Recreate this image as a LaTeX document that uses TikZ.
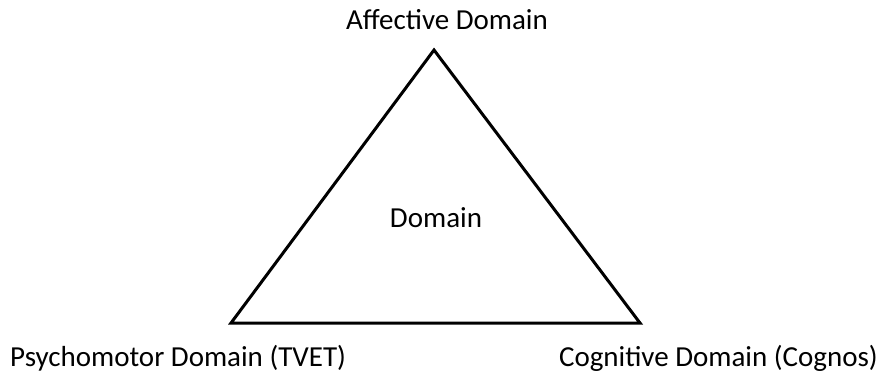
\documentclass[tikz,border=0pt]{standalone}
\usepackage{fontspec}
\setmainfont{Carlito}
\begin{document}
\begin{tikzpicture}[x=1pt,y=-1pt,
  lbl/.style={inner sep=0pt,font=\fontsize{29}{34}\selectfont},
  edge/.style={line width=3pt,line join=miter}]
\useasboundingbox (0,0) rectangle (885,376);
\coordinate (top) at (434,50);
\coordinate (bl) at (231,323);
\coordinate (br) at (640,323);
\draw[edge] (top) -- (bl) -- (br) -- cycle;
\node[lbl,anchor=base] (aff) at (447,29) {Affective Domain};
\node[lbl,anchor=base] (dom) at (436,227) {Domain};
\node[lbl,anchor=base west] (psy) at (10,366) {Psychomotor Domain (TVET)};
\node[lbl,anchor=base east] (cog) at (878,366) {Cognitive Domain (Cognos)};
\end{tikzpicture}
\end{document}
